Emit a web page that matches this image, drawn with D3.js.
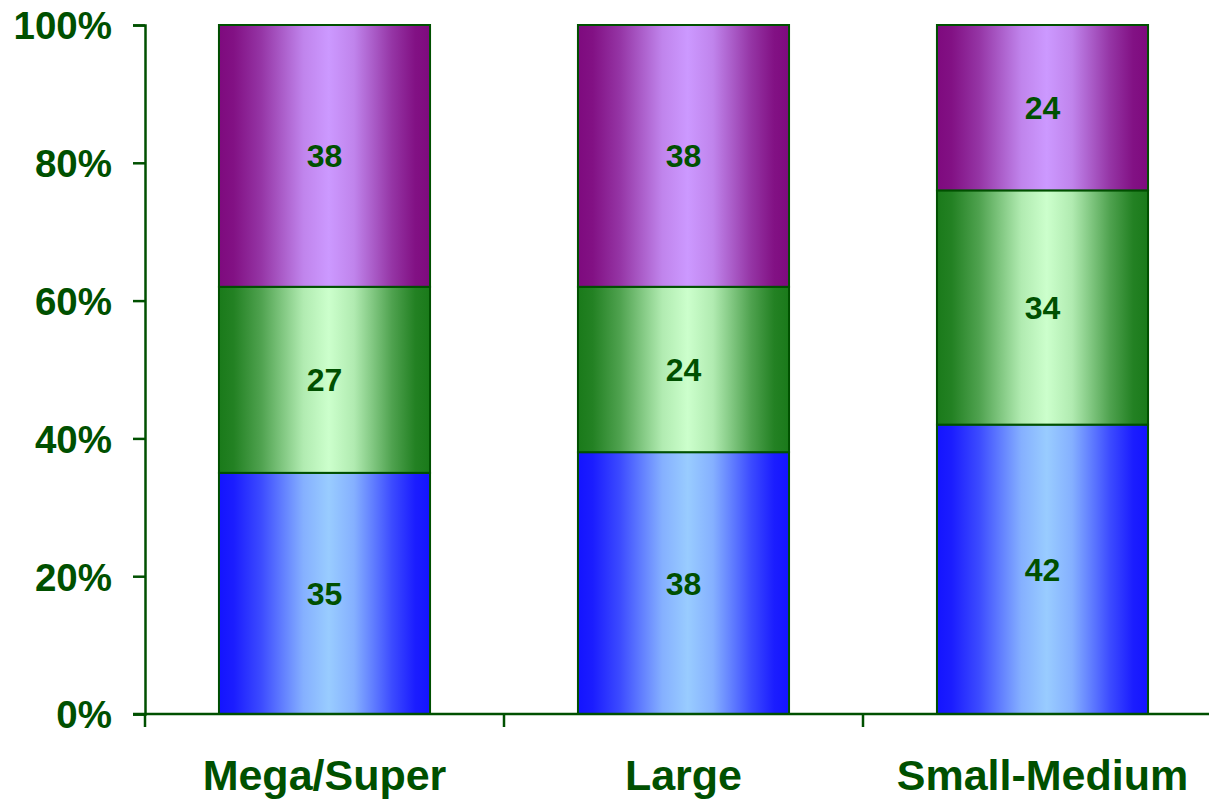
<!DOCTYPE html>
<html>
<head>
<meta charset="utf-8">
<script src="https://cdn.jsdelivr.net/npm/d3@7"></script>
<style>
  html, body { margin: 0; padding: 0; background: #fff; }
  svg { display: block; }
</style>
</head>
<body>
<svg id="chart" width="1209" height="799"></svg>
<script>
// Share of each segment (percent), stacked bottom to top
const categories = ["Mega/Super", "Large", "Small-Medium"];
const seriesNames = ["blue", "green", "purple"];
const blueValues = [35, 38, 42];
const greenValues = [27, 24, 34];
const purpleValues = [38, 38, 24];
const yTicks = [0, 20, 40, 60, 80, 100];

const ink = "#005000";
const palettes = {
  blue:   { edge: "#1414ff", mid: "#99ccff" },
  green:  { edge: "#1a7a1a", mid: "#ccffcc" },
  purple: { edge: "#7e0a7e", mid: "#cc99ff" }
};

const svg = d3.select("#chart");
const margin = { left: 145, top: 25, bottom: 85 };
const H = 799;
const bandW = 359;

const x = d3.scaleBand()
  .domain(categories)
  .range([margin.left, margin.left + bandW * categories.length])
  .paddingInner(0.412)
  .paddingOuter(0.206);

const y = d3.scaleLinear().domain([0, 100]).range([H - margin.bottom, margin.top]);

// Horizontal "cylinder" shading for each series
const defs = svg.append("defs");
const shadeStops = [[0, 0], [0.07, 0.05], [0.2, 0.3], [0.4, 0.85], [0.52, 1], [0.64, 0.85], [0.82, 0.3], [0.93, 0.05], [1, 0]];
seriesNames.forEach(name => {
  const g = defs.append("linearGradient")
    .attr("id", "grad-" + name)
    .attr("x1", "0").attr("x2", "1").attr("y1", "0").attr("y2", "0");
  const p = palettes[name];
  const mix = d3.interpolateRgb(p.edge, p.mid);
  shadeStops.forEach(([o, t]) => {
    g.append("stop").attr("offset", o).attr("stop-color", mix(t));
  });
});

const rows = categories.map((c, i) => ({
  category: c, blue: blueValues[i], green: greenValues[i], purple: purpleValues[i]
}));
const stacked = d3.stack().keys(seriesNames)(rows);

const bars = svg.append("g");
stacked.forEach(layer => {
  const key = layer.key;
  const grp = bars.append("g");
  grp.selectAll("rect")
    .data(layer)
    .join("rect")
    .attr("x", d => x(d.data.category))
    .attr("width", x.bandwidth())
    .attr("y", d => y(d[1]))
    .attr("height", d => y(d[0]) - y(d[1]))
    .attr("fill", "url(#grad-" + key + ")")
    .attr("stroke", ink)
    .attr("stroke-width", 2);
  grp.selectAll("text")
    .data(layer)
    .join("text")
    .attr("x", d => x(d.data.category) + x.bandwidth() / 2)
    .attr("y", d => y((d[0] + d[1]) / 2))
    .attr("dy", "0.36em")
    .attr("text-anchor", "middle")
    .attr("font-family", "Liberation Sans, Arial, sans-serif")
    .attr("font-weight", "bold")
    .attr("font-size", 32)
    .attr("fill", ink)
    .text(d => d.data[key]);
});

// Y axis
const yAxis = svg.append("g")
  .attr("transform", `translate(${margin.left},0)`)
  .call(d3.axisLeft(y).tickValues(yTicks).tickSize(12).tickPadding(21).tickFormat(d => d + "%"));
yAxis.select(".domain").attr("stroke", ink).attr("stroke-width", 2.5);
yAxis.selectAll(".tick line").attr("stroke", ink).attr("stroke-width", 2.5);
yAxis.selectAll(".tick text")
  .attr("fill", ink)
  .attr("font-family", "Liberation Sans, Arial, sans-serif")
  .attr("font-weight", "bold")
  .attr("font-size", 38.5)
  .attr("dy", "0.36em");

// X axis with ticks between categories
const xAxisY = y(0);
const xg = svg.append("g");
xg.append("line")
  .attr("x1", margin.left - 12).attr("x2", 1209)
  .attr("y1", xAxisY).attr("y2", xAxisY)
  .attr("stroke", ink).attr("stroke-width", 2.5);
const boundaries = d3.range(categories.length).map(i => margin.left + bandW * i);
xg.selectAll("line.sep")
  .data(boundaries)
  .join("line")
  .attr("class", "sep")
  .attr("x1", d => d).attr("x2", d => d)
  .attr("y1", xAxisY).attr("y2", xAxisY + 13)
  .attr("stroke", ink).attr("stroke-width", 2.5);
xg.selectAll("text")
  .data(categories)
  .join("text")
  .attr("x", d => x(d) + x.bandwidth() / 2)
  .attr("y", 790)
  .attr("text-anchor", "middle")
  .attr("font-family", "Liberation Sans, Arial, sans-serif")
  .attr("font-weight", "bold")
  .attr("font-size", 43)
  .attr("fill", ink)
  .text(d => d);
</script>
</body>
</html>
